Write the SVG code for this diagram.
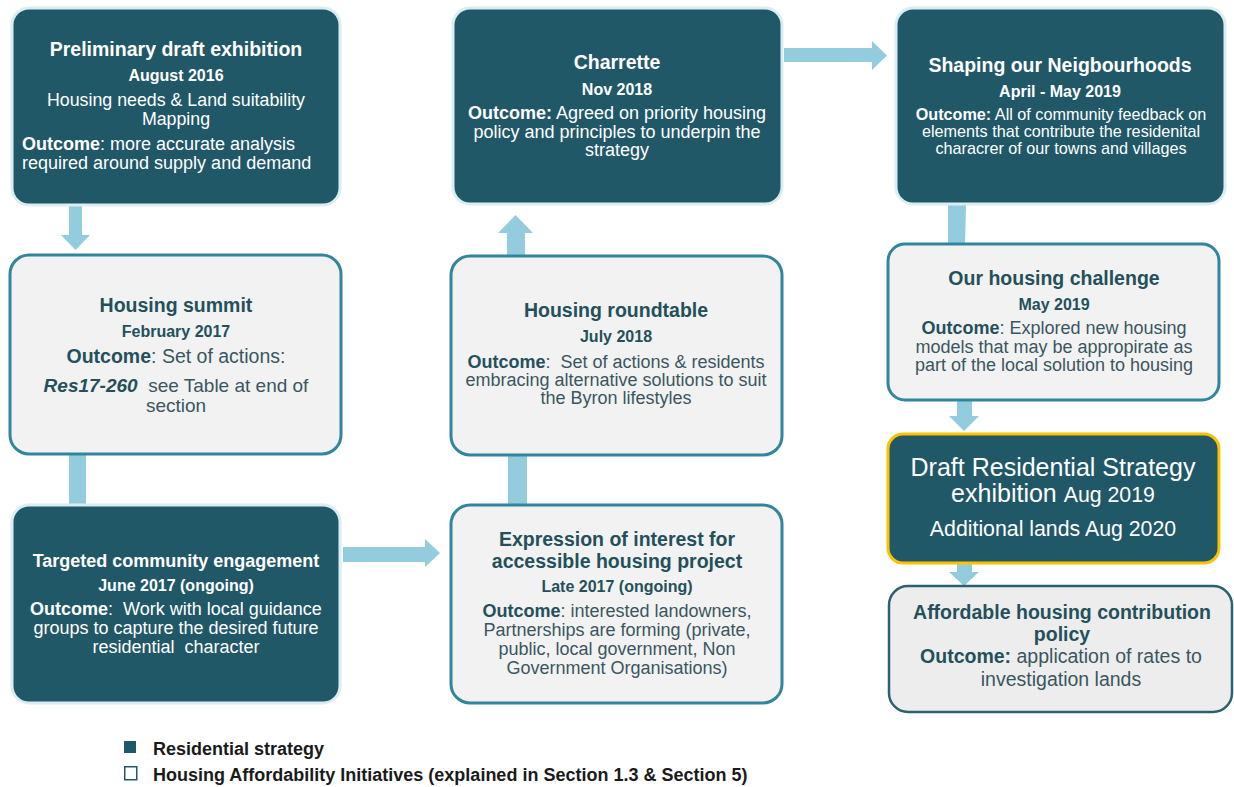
<svg xmlns="http://www.w3.org/2000/svg" width="1234" height="787" viewBox="0 0 1234 787">
<style>
text{font-family:"Liberation Sans",Arial,sans-serif;}
.dark{fill:#215868;stroke:#d9edf3;stroke-width:3;}
.light{fill:#f2f2f2;stroke:#31859c;stroke-width:3;}
.wt{fill:#ffffff;}
.dt{fill:#24505c;}
.bt{fill:#3a5661;}
.c{text-anchor:middle;}
.t{font-weight:bold;font-size:19.5px;}
.d{font-weight:bold;font-size:16px;}
.b{font-size:18px;}
.k{font-weight:bold;}
.arr{fill:#93cddd;}
.lg{font-weight:bold;font-size:18px;fill:#1a1a1a;}
</style>
<g id="connectors">
<path class="arr" d="M69,206 H82 V235 H90 L75.5,250 L61,235 H69 Z"/>
<rect class="arr" x="69" y="455" width="17" height="50"/>
<path class="arr" d="M343,547 H425 V539 L440,553 L425,567 V562 H343 Z"/>
<rect class="arr" x="508" y="455" width="19" height="50"/>
<path class="arr" d="M507,255 V233 H498 L515.5,215 L533,233 H525 V255 Z"/>
<path class="arr" d="M784,48 H872 V41 L887,55.5 L872,70 V62 H784 Z"/>
<path class="arr" d="M948,205 H966 L965,243 H948 Z"/>
<path class="arr" d="M957,401 H972 V416 H979 L964,431 L949,416 H957 Z"/>
<path class="arr" d="M957,564 H972 V572 H979 L964,586 L949,572 H957 Z"/>
</g>
<g id="n1">
<rect class="dark" x="12" y="8" width="328" height="197" rx="17"/>
<text class="wt c t" x="176" y="56">Preliminary draft exhibition</text>
<text class="wt c d" x="176" y="81">August 2016</text>
<text class="wt c" x="176" y="106" font-size="17.8">Housing needs &amp; Land suitability</text>
<text class="wt c" x="176" y="125" font-size="17.8">Mapping</text>
<text class="wt" x="22" y="150" font-size="18"><tspan class="k">Outcome</tspan>: more accurate analysis</text>
<text class="wt" x="22" y="169" font-size="18">required around supply and demand</text>
</g>
<g id="n2">
<rect class="light" x="10" y="255" width="331" height="199" rx="19"/>
<text class="dt c t" x="176" y="312">Housing summit</text>
<text class="dt c d" x="176" y="337">February 2017</text>
<text class="bt c" x="176" y="363" font-size="19.5"><tspan class="k dt">Outcome</tspan>: Set of actions:</text>
<text class="bt c" x="176" y="392" font-size="19" xml:space="preserve"><tspan class="k dt" font-style="italic">Res17-260</tspan>  see Table at end of</text>
<text class="bt c" x="176" y="412" font-size="19">section</text>
</g>
<g id="n3">
<rect class="dark" x="12" y="505" width="328" height="198" rx="17"/>
<text class="wt c" x="176" y="567" font-weight="bold" font-size="18">Targeted community engagement</text>
<text class="wt c d" x="176" y="591">June 2017 (ongoing)</text>
<text class="wt c b" x="176" y="615" xml:space="preserve"><tspan class="k">Outcome</tspan>:  Work with local guidance</text>
<text class="wt c b" x="176" y="634">groups to capture the desired future</text>
<text class="wt c b" x="176" y="653" xml:space="preserve">residential  character</text>
</g>
<g id="n4">
<rect class="light" x="451" y="505" width="331" height="198" rx="19"/>
<text class="dt c t" x="617" y="546">Expression of interest for</text>
<text class="dt c t" x="617" y="568">accessible housing project</text>
<text class="dt c d" x="617" y="592">Late 2017 (ongoing)</text>
<text class="bt c b" x="617" y="617"><tspan class="k dt">Outcome</tspan>: interested landowners,</text>
<text class="bt c b" x="617" y="636">Partnerships are forming (private,</text>
<text class="bt c b" x="617" y="655">public, local government, Non</text>
<text class="bt c b" x="617" y="674">Government Organisations)</text>
</g>
<g id="n5">
<rect class="light" x="451" y="256" width="331" height="199" rx="19"/>
<text class="dt c t" x="616" y="317">Housing roundtable</text>
<text class="dt c d" x="616" y="342">July 2018</text>
<text class="bt c b" x="616" y="368" xml:space="preserve"><tspan class="k dt">Outcome</tspan>:  Set of actions &amp; residents</text>
<text class="bt c b" x="616" y="386">embracing alternative solutions to suit</text>
<text class="bt c b" x="616" y="404">the Byron lifestyles</text>
</g>
<g id="n6">
<rect class="dark" x="453" y="8" width="329" height="196" rx="17"/>
<text class="wt c t" x="617" y="69">Charrette</text>
<text class="wt c d" x="617" y="95">Nov 2018</text>
<text class="wt c b" x="617" y="119"><tspan class="k">Outcome:</tspan> Agreed on priority housing</text>
<text class="wt c b" x="617" y="138">policy and principles to underpin the</text>
<text class="wt c b" x="617" y="156">strategy</text>
</g>
<g id="n7">
<rect class="dark" x="896" y="8" width="329" height="196" rx="17"/>
<text class="wt c t" x="1060" y="72">Shaping our Neigbourhoods</text>
<text class="wt c d" x="1060" y="97">April - May 2019</text>
<text class="wt c" x="1061" y="120" font-size="16.2"><tspan class="k">Outcome:</tspan> All of community feedback on</text>
<text class="wt c" x="1061" y="137" font-size="16.2">elements that contribute the residenital</text>
<text class="wt c" x="1061" y="154" font-size="16.2">characrer of our towns and villages</text>
</g>
<g id="n8">
<rect class="light" x="888" y="244" width="331" height="156" rx="17"/>
<text class="dt c t" x="1054" y="285">Our housing challenge</text>
<text class="dt c d" x="1054" y="310">May 2019</text>
<text class="bt c b" x="1054" y="334"><tspan class="k dt">Outcome</tspan>: Explored new housing</text>
<text class="bt c b" x="1054" y="353">models that may be appropirate as</text>
<text class="bt c b" x="1054" y="371">part of the local solution to housing</text>
</g>
<g id="n9">
<rect x="888" y="434" width="331" height="129" rx="15" fill="#215868" stroke="#ffc000" stroke-width="3"/>
<text class="wt c" x="1053" y="476" font-size="25">Draft Residential Strategy</text>
<text class="wt c" x="1053" y="502" font-size="25">exhibition <tspan font-size="21.3">Aug 2019</tspan></text>
<text class="wt c" x="1053" y="536" font-size="21.3">Additional lands Aug 2020</text>
</g>
<g id="n10">
<rect x="889" y="586" width="343" height="126" rx="19" fill="#ededed" stroke="#2d6170" stroke-width="2.5"/>
<text class="dt c t" x="1062" y="619">Affordable housing contribution</text>
<text class="dt c t" x="1062" y="641">policy</text>
<text class="bt c" x="1061" y="663" font-size="19.5"><tspan class="k dt">Outcome:</tspan> application of rates to</text>
<text class="bt c" x="1061" y="686" font-size="19.5">investigation lands</text>
</g>
<g id="legend">
<rect x="124" y="741" width="12" height="12" fill="#215868"/>
<text class="lg" x="153" y="755">Residential strategy</text>
<rect x="124.75" y="766.75" width="12" height="13" fill="#ffffff" stroke="#215868" stroke-width="1.5"/>
<text class="lg" x="153" y="781">Housing Affordability Initiatives (explained in Section 1.3 &amp; Section 5)</text>
</g>
</svg>
